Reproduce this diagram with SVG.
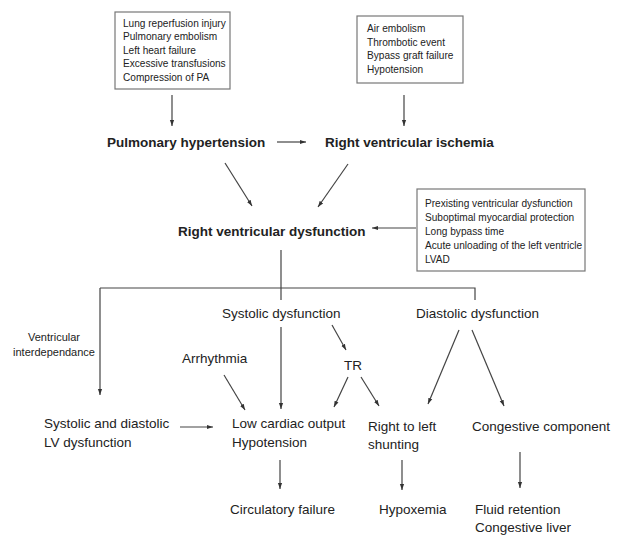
<svg xmlns="http://www.w3.org/2000/svg" width="619" height="536" viewBox="0 0 619 536">
<defs>
<marker id="ah" viewBox="0 0 10 10" refX="10" refY="5" markerWidth="6" markerHeight="6" orient="auto" markerUnits="userSpaceOnUse">
<path d="M0,1.5 L10,5 L0,8.5 Z" fill="#333"/>
</marker>
<style>
text{font-family:"Liberation Sans",Arial,sans-serif;fill:#222}
.sm{font-size:10.1px}
.xs{font-size:11px}
.md{font-size:13.5px}
.bd{font-size:13.5px;font-weight:bold}
.box{fill:#fff;stroke:#777;stroke-width:1.2}
.ln{fill:none;stroke:#444;stroke-width:1.2}
.ar{fill:none;stroke:#444;stroke-width:1.2;marker-end:url(#ah)}
</style>
</defs>
<rect width="619" height="536" fill="#fff"/>

<g id="box1">
<rect class="box" x="115" y="12" width="115" height="77"/>
<text class="sm" x="123" y="27">Lung reperfusion injury</text>
<text class="sm" x="123" y="40">Pulmonary embolism</text>
<text class="sm" x="123" y="54">Left heart failure</text>
<text class="sm" x="123" y="67">Excessive transfusions</text>
<text class="sm" x="123" y="81">Compression of PA</text>
</g>
<g id="box2">
<rect class="box" x="357" y="16" width="106" height="67"/>
<text class="sm" x="367" y="32">Air embolism</text>
<text class="sm" x="367" y="46">Thrombotic event</text>
<text class="sm" x="367" y="59">Bypass graft failure</text>
<text class="sm" x="367" y="73">Hypotension</text>
</g>
<g id="box3">
<rect class="box" x="417" y="189" width="168" height="82"/>
<text class="sm" x="425" y="207">Prexisting ventricular dysfunction</text>
<text class="sm" x="425" y="221">Suboptimal myocardial protection</text>
<text class="sm" x="425" y="235">Long bypass time</text>
<text class="sm" x="425" y="249">Acute unloading of the left ventricle</text>
<text class="sm" x="425" y="263">LVAD</text>
</g>
<g id="ph"><text class="bd" x="107" y="147">Pulmonary hypertension</text></g>
<g id="rvi"><text class="bd" x="325" y="147">Right ventricular ischemia</text></g>
<g id="rvd"><text class="bd" x="178" y="236">Right ventricular dysfunction</text></g>
<g id="vi">
<text class="xs" x="54" y="341" text-anchor="middle">Ventricular</text>
<text class="xs" x="54" y="356" text-anchor="middle">interdependance</text>
</g>
<g id="sd"><text class="md" x="222" y="318">Systolic dysfunction</text></g>
<g id="dd"><text class="md" x="416" y="318">Diastolic dysfunction</text></g>
<g id="arr"><text class="md" x="182" y="363">Arrhythmia</text></g>
<g id="tr"><text class="md" x="344" y="370">TR</text></g>
<g id="lvd">
<text class="md" x="44" y="428">Systolic and diastolic</text>
<text class="md" x="44" y="447">LV dysfunction</text>
</g>
<g id="lco">
<text class="md" x="232" y="428">Low cardiac output</text>
<text class="md" x="232" y="447">Hypotension</text>
</g>
<g id="rls">
<text class="md" x="368" y="431">Right to left</text>
<text class="md" x="368" y="449">shunting</text>
</g>
<g id="cc"><text class="md" x="472" y="431">Congestive component</text></g>
<g id="cf"><text class="md" x="230" y="514">Circulatory failure</text></g>
<g id="hyp"><text class="md" x="379" y="514">Hypoxemia</text></g>
<g id="fr">
<text class="md" x="475" y="514">Fluid retention</text>
<text class="md" x="475" y="532">Congestive liver</text>
</g>

<g id="connectors">
<line class="ar" x1="172" y1="95" x2="172" y2="126"/>
<line class="ar" x1="404" y1="95" x2="404" y2="126"/>
<line class="ar" x1="277" y1="142" x2="306" y2="142"/>
<line class="ar" x1="225" y1="163" x2="252" y2="206"/>
<line class="ar" x1="348" y1="164" x2="318" y2="207"/>
<line class="ar" x1="416" y1="228" x2="372" y2="228"/>
<polyline class="ln" points="281,250 281,300"/>
<polyline class="ln" points="100,288 475,288 475,300"/>
<line class="ar" x1="100" y1="288" x2="100" y2="395"/>
<line class="ar" x1="281" y1="327" x2="281" y2="409"/>
<line class="ar" x1="224" y1="375" x2="245" y2="410"/>
<line class="ar" x1="180" y1="427" x2="213" y2="427"/>
<line class="ar" x1="280" y1="460" x2="280" y2="489"/>
<line class="ar" x1="332" y1="325" x2="346" y2="350"/>
<line class="ar" x1="348" y1="377" x2="334" y2="407"/>
<line class="ar" x1="361" y1="377" x2="379" y2="406"/>
<line class="ar" x1="459" y1="330" x2="428" y2="404"/>
<line class="ar" x1="472" y1="330" x2="504" y2="406"/>
<line class="ar" x1="402" y1="460" x2="402" y2="490"/>
<line class="ar" x1="520" y1="452" x2="520" y2="488"/>
</g>
</svg>
